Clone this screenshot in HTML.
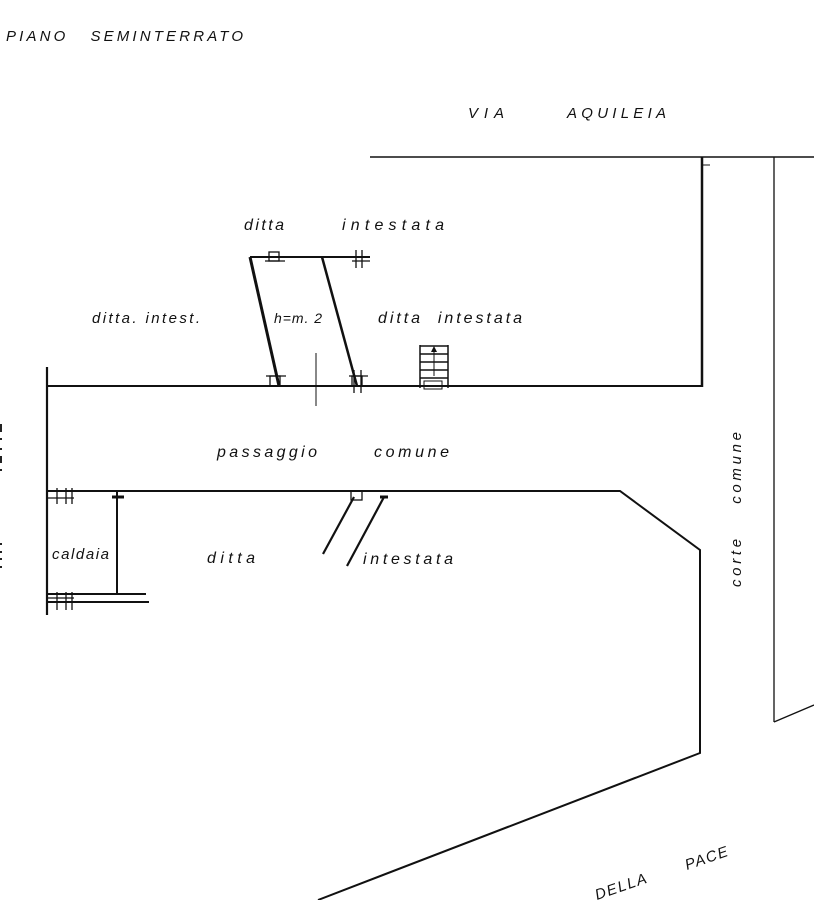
<!DOCTYPE html>
<html><head><meta charset="utf-8"><style>
html,body{margin:0;padding:0;background:#fff;}
svg{display:block}
text{font-family:"Liberation Sans",sans-serif;font-style:italic;fill:#111;}
</style></head><body>
<svg width="814" height="900" viewBox="0 0 814 900" xmlns="http://www.w3.org/2000/svg">
<g stroke="#111" fill="none" stroke-width="2">
<line x1="370" y1="157" x2="814" y2="157" stroke-width="1.5"/>
<line x1="702" y1="157" x2="702" y2="387" stroke-width="2.5"/>
<line x1="702" y1="165" x2="710" y2="165" stroke-width="1"/>
<line x1="774" y1="157" x2="774" y2="722" stroke-width="1.3"/>
<line x1="774" y1="722" x2="814" y2="705" stroke-width="1.3"/>
<line x1="48" y1="386" x2="702" y2="386"/>
<line x1="47" y1="367" x2="47" y2="615" stroke-width="2.2"/>
<polyline points="48,491 620,491 700,550 700,753 318,900"/>
<line x1="250" y1="257" x2="370" y2="257"/>
<line x1="250" y1="257" x2="279" y2="386" stroke-width="3"/>
<line x1="322" y1="257" x2="357" y2="386" stroke-width="2.5"/>
<line x1="316" y1="353" x2="316" y2="406" stroke-width="1"/>
<g stroke-width="1.3">
<rect x="269" y="252" width="10" height="9"/><line x1="265" y1="261" x2="285" y2="261"/>
<line x1="356" y1="250" x2="356" y2="268"/><line x1="362" y1="250" x2="362" y2="268"/><line x1="352" y1="261" x2="370" y2="261"/>
<rect x="270" y="376" width="10" height="10"/><line x1="266" y1="376" x2="286" y2="376"/>
<rect x="352" y="376" width="10" height="10"/><line x1="349" y1="376" x2="368" y2="376"/><line x1="354" y1="370" x2="354" y2="393"/><line x1="361" y1="370" x2="361" y2="393"/>
<rect x="351" y="491" width="11" height="9"/>
<line x1="48" y1="498" x2="74" y2="498"/><line x1="57" y1="488" x2="57" y2="504"/><line x1="66" y1="488" x2="66" y2="504"/><line x1="72" y1="488" x2="72" y2="504"/>
<line x1="48" y1="598" x2="74" y2="598"/><line x1="57" y1="592" x2="57" y2="610"/><line x1="66" y1="592" x2="66" y2="610"/><line x1="72" y1="592" x2="72" y2="610"/>
<line x1="112" y1="497" x2="124" y2="497" stroke-width="3"/>
<line x1="380" y1="497" x2="388" y2="497" stroke-width="3"/>
</g>
<g stroke-width="1.5">
<line x1="420" y1="345" x2="420" y2="388"/><line x1="448" y1="345" x2="448" y2="388"/>
<line x1="420" y1="346" x2="448" y2="346"/><line x1="420" y1="354" x2="448" y2="354"/><line x1="420" y1="362" x2="448" y2="362"/><line x1="420" y1="370" x2="448" y2="370"/><line x1="420" y1="378" x2="448" y2="378"/>
<line x1="434" y1="350" x2="434" y2="376" stroke-width="1"/>
<rect x="424" y="381" width="18" height="8" stroke-width="1"/>
</g>
<polygon points="434,346 431,352 437,352" fill="#111" stroke="none"/>
<line x1="117" y1="491" x2="117" y2="595"/>
<line x1="48" y1="594" x2="146" y2="594"/>
<line x1="48" y1="602" x2="149" y2="602"/>
<line x1="354" y1="497" x2="323" y2="554" stroke-width="2.2"/>
<line x1="384" y1="497" x2="347" y2="566" stroke-width="2.2"/>
</g>
<g fill="#222"><rect x="0" y="424" width="2" height="8"/><rect x="0" y="438" width="2" height="2"/><rect x="0" y="448" width="2" height="2"/><rect x="0" y="456" width="2" height="7"/><rect x="0" y="469" width="2" height="2"/><rect x="0" y="543" width="2" height="2"/><rect x="0" y="551" width="2" height="2"/><rect x="0" y="558" width="2" height="2"/><rect x="0" y="566" width="2" height="2"/></g>
<text x="6" y="41" font-size="15" textLength="237" lengthAdjust="spacing">PIANO&#160;&#160;&#160;SEMINTERRATO</text>
<text x="468" y="118" font-size="15" textLength="36" lengthAdjust="spacing">VIA</text>
<text x="567" y="118" font-size="15" textLength="99" lengthAdjust="spacing">AQUILEIA</text>
<text x="244" y="230" font-size="16" textLength="40" lengthAdjust="spacing">ditta</text>
<text x="342" y="230" font-size="16" textLength="102" lengthAdjust="spacing">intestata</text>
<text x="92" y="323" font-size="15" textLength="108" lengthAdjust="spacing">ditta. intest.</text>
<text x="274" y="323" font-size="14" textLength="48" lengthAdjust="spacing">h=m. 2</text>
<text x="378" y="323" font-size="16" textLength="144" lengthAdjust="spacing">ditta&#160;&#160;intestata</text>
<text x="217" y="457" font-size="16" textLength="100" lengthAdjust="spacing">passaggio</text>
<text x="374" y="457" font-size="16" textLength="75" lengthAdjust="spacing">comune</text>
<text x="52" y="559" font-size="15" textLength="57" lengthAdjust="spacing">caldaia</text>
<text x="207" y="563" font-size="16" textLength="48" lengthAdjust="spacing">ditta</text>
<text x="363" y="564" font-size="16" textLength="90" lengthAdjust="spacing">intestata</text>
<text transform="translate(741,587) rotate(-90)" font-size="15" font-style="normal" textLength="155" lengthAdjust="spacing">corte&#160;&#160;&#160;&#160;comune</text>
<text transform="translate(597,900) rotate(-19)" font-size="15" font-style="normal" letter-spacing="1.5">DELLA</text>
<text transform="translate(687,870) rotate(-19)" font-size="15" font-style="normal" letter-spacing="1.5">PACE</text>
</svg>
</body></html>
